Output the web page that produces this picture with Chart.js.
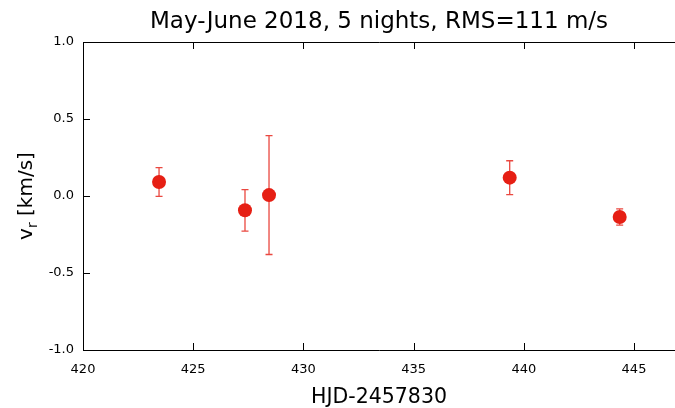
<!DOCTYPE html>
<html lang="en">
<head>
  <meta charset="UTF-8">
  <title>Radial velocities</title>
  <script src="https://cdn.jsdelivr.net/npm/chart.js"></script>
  <style>
    html, body { margin: 0; padding: 0; background: #fff; overflow: hidden; }
    #wrap { width: 675px; height: 408px; position: relative; }
    #rvChart { display: block; }
  </style>
</head>
<body>
  <div id="wrap"><canvas id="rvChart"></canvas></div>

  <script>
    // Observations: HJD-2457830, radial velocity and its error (km/s)
    const hjd   = [423.45, 427.35, 428.44, 439.36, 444.35];
    const vr    = [0.091, -0.093, 0.006, 0.119, -0.136];
    const vrErr = [0.093, 0.135, 0.386, 0.110, 0.053];

    const xTicks = [420, 425, 430, 435, 440, 445];
    const yTicks = [-1.0, -0.5, 0.0, 0.5, 1.0];

    const titleText = 'May-June 2018, 5 nights, RMS=111 m/s';
    const xTitle = 'HJD-2457830';

    const FONT = '"DejaVu Sans", sans-serif';
    const markerColor = '#e61f14';
    const barColor = 'rgba(230, 40, 30, 0.85)';

    // error bars under the markers
    const errorBars = {
      id: 'errorBars',
      beforeDatasetsDraw(chart) {
        const { ctx, scales: { x, y } } = chart;
        ctx.save();
        ctx.strokeStyle = barColor;
        ctx.lineWidth = 1.3;
        hjd.forEach((t, i) => {
          const px = x.getPixelForValue(t);
          const top = y.getPixelForValue(vr[i] + vrErr[i]);
          const bot = y.getPixelForValue(vr[i] - vrErr[i]);
          ctx.beginPath();
          ctx.moveTo(px, top); ctx.lineTo(px, bot);
          ctx.moveTo(px - 3.5, top); ctx.lineTo(px + 3.5, top);
          ctx.moveTo(px - 3.5, bot); ctx.lineTo(px + 3.5, bot);
          ctx.stroke();
        });
        ctx.restore();
      }
    };

    // frame, inward ticks and the titles
    const frame = {
      id: 'frame',
      afterDraw(chart) {
        const { ctx, chartArea: a, scales: { x, y } } = chart;
        ctx.save();
        ctx.strokeStyle = '#000';
        ctx.lineWidth = 1;
        ctx.beginPath();
        ctx.moveTo(chart.width, a.top + 0.5);
        ctx.lineTo(a.left + 0.5, a.top + 0.5);
        ctx.lineTo(a.left + 0.5, a.bottom + 0.5);
        ctx.lineTo(chart.width, a.bottom + 0.5);
        ctx.stroke();

        ctx.beginPath();
        xTicks.forEach(v => {
          const px = Math.round(x.getPixelForValue(v)) + 0.5;
          ctx.moveTo(px, a.bottom); ctx.lineTo(px, a.bottom - 7);
          ctx.moveTo(px, a.top); ctx.lineTo(px, a.top + 7);
        });
        yTicks.forEach(v => {
          const py = Math.round(y.getPixelForValue(v)) + 0.5;
          ctx.moveTo(a.left, py); ctx.lineTo(a.left + 7, py);
        });
        ctx.stroke();

        ctx.fillStyle = '#000';
        const cx = (a.left + a.right) / 2;
        ctx.textAlign = 'center';
        ctx.textBaseline = 'alphabetic';
        ctx.font = '23px ' + FONT;
        ctx.fillText(titleText, cx, 28);
        ctx.font = '20.5px ' + FONT;
        ctx.fillText(xTitle, cx, 403);

        // y title with subscript r, rotated
        ctx.translate(32, (a.top + a.bottom) / 2);
        ctx.rotate(-Math.PI / 2);
        const main = '20px ' + FONT, sub = '14px ' + FONT;
        ctx.font = main; const w1 = ctx.measureText('v').width;
        ctx.font = sub;  const w2 = ctx.measureText('r').width;
        ctx.font = main; const w3 = ctx.measureText(' [km/s]').width;
        let sx = -(w1 + w2 + w3) / 2;
        ctx.textAlign = 'left';
        ctx.font = main; ctx.fillText('v', sx, 0); sx += w1;
        ctx.font = sub;  ctx.fillText('r', sx, 5); sx += w2;
        ctx.font = main; ctx.fillText(' [km/s]', sx, 0);
        ctx.restore();
      }
    };

    new Chart(document.getElementById('rvChart'), {
      type: 'scatter',
      data: {
        datasets: [{
          data: hjd.map((t, i) => ({ x: t, y: vr[i] })),
          backgroundColor: markerColor,
          borderColor: markerColor,
          pointRadius: 7,
          borderWidth: 0
        }]
      },
      options: {
        responsive: true,
        maintainAspectRatio: false,
        animation: false,
        events: [],
        layout: { autoPadding: false, padding: { top: 42, right: 0, left: 0, bottom: 0 } },
        plugins: { legend: { display: false }, tooltip: { enabled: false } },
        scales: {
          x: {
            type: 'linear', min: 420, max: 446.86,
            afterBuildTicks: s => { s.ticks = xTicks.map(v => ({ value: v })); },
            afterFit: s => { s.height = 58; s.paddingLeft = 0; s.paddingRight = 0; },
            grid: { display: false, drawTicks: false },
            border: { display: false },
            ticks: { color: '#000', font: { family: FONT, size: 13 }, padding: 12,
                     maxRotation: 0, callback: v => String(v) }
          },
          y: {
            type: 'linear', min: -1, max: 1,
            afterBuildTicks: s => { s.ticks = yTicks.map(v => ({ value: v })); },
            afterFit: s => { s.width = 83; s.paddingTop = 0; s.paddingBottom = 0; },
            grid: { display: false, drawTicks: false },
            border: { display: false },
            ticks: { color: '#000', font: { family: FONT, size: 13 }, padding: 9,
                     callback: v => Number(v).toFixed(1) }
          }
        }
      },
      plugins: [errorBars, frame]
    });
  </script>
</body>
</html>
